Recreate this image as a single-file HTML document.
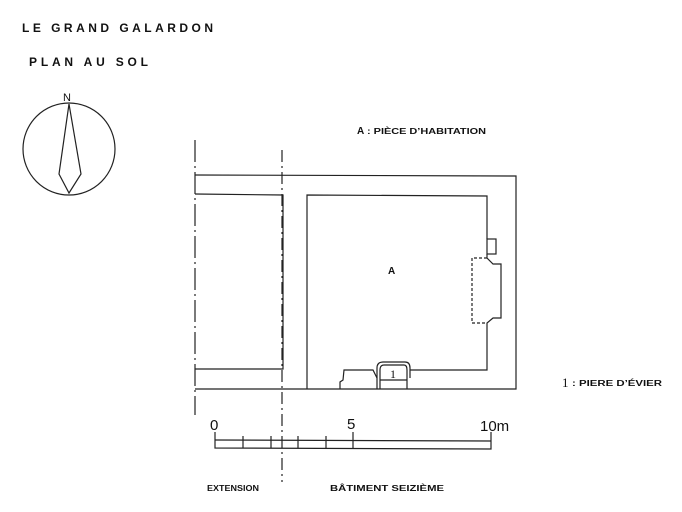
<!DOCTYPE html>
<html><head><meta charset="utf-8"><style>
body{margin:0;background:#fff;}
svg{display:block}
text{font-family:"Liberation Sans",sans-serif;font-weight:bold;fill:#111}
</style></head><body>
<svg width="682" height="512" viewBox="0 0 682 512" xmlns="http://www.w3.org/2000/svg">
<g fill="none" stroke="#222" stroke-width="1.2">
<circle cx="69" cy="149" r="46"/>
<polygon points="69,104 59,174 69,193 81,174"/>
<polyline points="195,175 516,176 516,389 195,389"/>
<polyline points="195,194 283,195 283,369 195,369"/>
<polyline points="307,389 307,195 487,196 487,239"/>
<rect x="487" y="239" width="9" height="15"/>
<polyline points="487,254 487,258 493,264 501,264 501,318 493,318 487,323 487,370 410,370"/>
<path d="M487,258 H472 V323 H487" stroke-dasharray="3,2"/>
<polyline points="340,389 340,382 343,380 344,370 373,370 377,378 377,389"/>
<path d="M377,378 V368 Q377,362 383,362 H405 Q410,362 410,368 V378"/>
<path d="M380,389 V370 Q380,365 384,365 H404 Q407,365 407,370 V389"/>
<line x1="380" y1="380" x2="407" y2="380"/>
<line x1="195" y1="140" x2="195" y2="415" stroke-dasharray="22,4,2,4"/>
<line x1="282" y1="150" x2="282" y2="482" stroke-dasharray="12,4,2,4"/>
<polyline points="215,432 215,448 491,449 491,432"/>
<line x1="215" y1="440" x2="491" y2="441"/>
<g><line x1="243" y1="436" x2="243" y2="448"/><line x1="271" y1="436" x2="271" y2="448"/><line x1="298" y1="436" x2="298" y2="448"/><line x1="326" y1="436" x2="326" y2="448"/><line x1="353" y1="432" x2="353" y2="448"/></g>
</g>
<text x="63" y="101" font-size="11" style="font-weight:normal">N</text>
<text x="210" y="430" font-size="15" style="font-weight:normal">0</text>
<text x="347" y="429" font-size="15" style="font-weight:normal">5</text>
<text x="480" y="431" font-size="15" style="font-weight:normal">10m</text>
<text x="390" y="378" font-size="12" style="font-weight:normal;font-family:'Liberation Serif',serif">1</text>
<text x="562" y="387" font-size="13" style="font-weight:normal;font-family:'Liberation Serif',serif">1</text>
<text x="22" y="32" font-size="12" textLength="191" lengthAdjust="spacing">LE GRAND GALARDON</text>
<text x="29" y="66" font-size="12" textLength="119" lengthAdjust="spacing">PLAN AU SOL</text>
<text x="357" y="134" font-size="10">A</text>
<text x="367" y="134" font-size="8" textLength="119" lengthAdjust="spacingAndGlyphs">: PIÈCE D’HABITATION</text>
<text x="388" y="274" font-size="10">A</text>
<text x="572" y="386" font-size="8" textLength="90" lengthAdjust="spacingAndGlyphs">: PIERE D’ÉVIER</text>
<text x="207" y="491" font-size="8.5" textLength="52" lengthAdjust="spacingAndGlyphs">EXTENSION</text>
<text x="330" y="491" font-size="8.5" textLength="114" lengthAdjust="spacingAndGlyphs">BÂTIMENT SEIZIÈME</text>
</svg>
</body></html>
